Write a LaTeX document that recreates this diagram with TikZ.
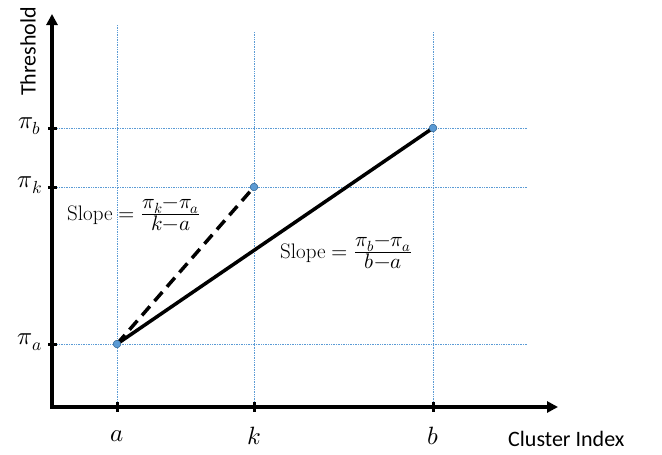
\documentclass[tikz,border=0pt]{standalone}
\usepackage{unicode-math}
\newfontfamily\lab{Carlito}
\usetikzlibrary{arrows.meta}
\definecolor{gridblue}{RGB}{91,155,213}
\definecolor{ptblue}{RGB}{91,155,213}
\definecolor{ptedge}{RGB}{65,113,156}
\newcommand{\bigfrac}[2]{\frac{\textstyle #1}{\textstyle #2}}
\begin{document}
\begin{tikzpicture}[x=1pt,y=-1pt,
  axis/.style={line width=3.2pt,-{Triangle[length=11pt,width=11pt]}},
  bluegrid/.style={densely dotted,line width=0.7pt,draw=gridblue},
  tickm/.style={line width=3pt},
  pt/.style={circle,fill=ptblue,draw=ptedge,line width=0.5pt,inner sep=0pt,minimum size=7.5pt},
  mlab/.style={font=\fontsize{25}{29}\selectfont},
  flab/.style={font=\fontsize{21}{25}\selectfont},
  slab/.style={font=\fontsize{22}{26}\selectfont\lab},
  thick line/.style={line width=3.5pt}]
\useasboundingbox (0,0) rectangle (662,455);
% coordinates
\coordinate (O) at (52,407);
\coordinate (ytop) at (52,14);
\coordinate (xend) at (558,407);
% grid lines
\draw[bluegrid] (117,25) -- (117,407);
\draw[bluegrid] (254,32) -- (254,407);
\draw[bluegrid] (433,32) -- (433,407);
\draw[bluegrid] (52,128) -- (527,128);
\draw[bluegrid] (52,187) -- (527,187);
\draw[bluegrid] (52,344) -- (527,344);
% axes
\draw[axis] (O) -- (ytop);
\draw[axis] ([xshift=-1.6pt]O) -- (xend);
% ticks
\draw[tickm] (48,128) -- (57,128);
\draw[tickm] (48,187) -- (57,187);
\draw[tickm] (48,344) -- (57,344);
\draw[tickm] (117,402) -- (117,412);
\draw[tickm] (254,402) -- (254,412);
\draw[tickm] (433,402) -- (433,412);
% points
\node[pt] (A) at (117,344) {};
\node[pt] (K) at (254,187) {};
\node[pt] (B) at (433,128) {};
\draw[thick line,dash pattern=on 12pt off 7pt] (A.center) -- (K.center);
\draw[thick line] (A.center) -- (B.center);
\node[pt] at (A) {};
\node[pt] at (K) {};
\node[pt] at (B) {};
% labels
\node[mlab] (la) at (30,126) {$\pi_b$};
\node[mlab] (lk) at (30,185) {$\pi_k$};
\node[mlab] (lpa) at (30,342) {$\pi_a$};
\node[mlab] (xa) at (117,436) {$a$};
\node[mlab] (xk) at (254,436) {$k$};
\node[mlab] (xb) at (433,436) {$b$};
\node[slab,anchor=west,inner sep=0pt] (ci) at (508,439) {Cluster Index};
\node[slab,rotate=90,anchor=west,inner sep=0pt] (th) at (28,96) {Threshold};
\node[flab,anchor=west,inner sep=0pt] (s1) at (67,215) {Slope $=\bigfrac{\pi_k{-}\pi_a}{k{-}a}$};
\node[flab,anchor=west,inner sep=0pt] (s2) at (280,253) {Slope $=\bigfrac{\pi_b{-}\pi_a}{b{-}a}$};
\end{tikzpicture}
\end{document}
